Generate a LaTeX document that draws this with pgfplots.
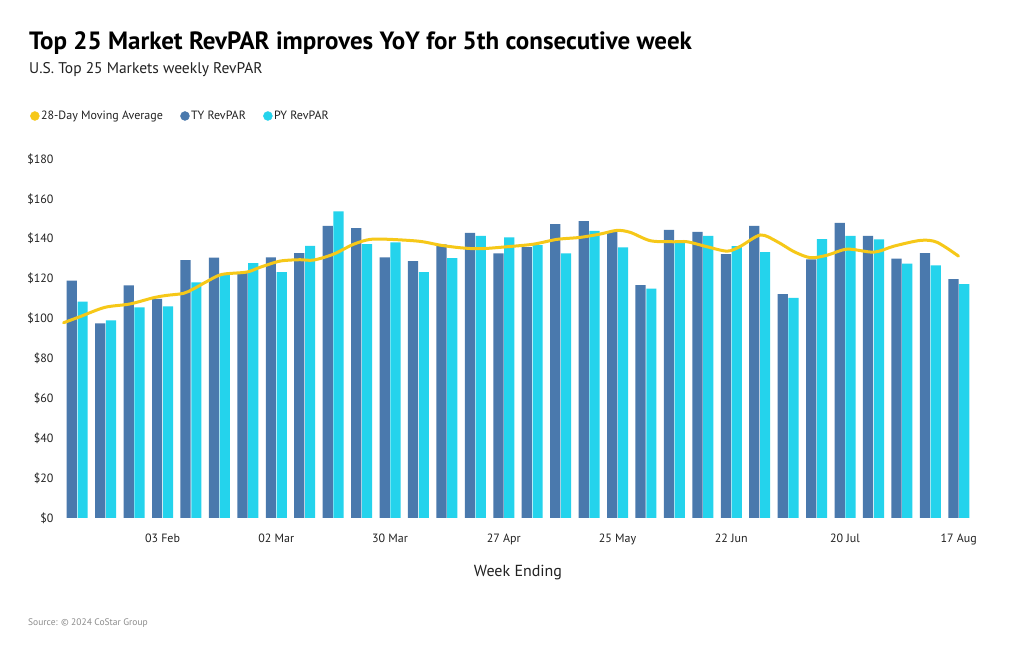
\documentclass[border=0pt]{standalone}
\usepackage{pgfplots}
\pgfplotsset{compat=1.18}
\usepackage{pgfplotstable}
\usepackage{fontspec}
\setmainfont{PT Sans}
\definecolor{tycol}{HTML}{4A79AD}
\definecolor{pycol}{HTML}{24D3EC}
\definecolor{macol}{HTML}{F6C818}
\definecolor{txt}{HTML}{222222}

\pgfplotstableread{
idx ty py
0 119.0 108.5
1 97.6 99.1
2 116.6 105.6
3 109.9 106.1
4 129.3 118.1
5 130.5 122.0
6 122.8 127.8
7 130.7 123.3
8 132.8 136.5
9 146.5 153.7
10 145.4 137.3
11 130.7 138.2
12 128.8 123.3
13 137.2 130.3
14 143.0 141.4
15 132.7 140.7
16 135.8 136.8
17 147.4 132.7
18 148.9 144.0
19 143.5 135.7
20 116.8 115.0
21 144.4 138.0
22 143.5 141.4
23 132.3 136.3
24 146.5 133.3
25 112.3 110.4
26 129.7 139.8
27 148.0 141.4
28 141.5 139.7
29 130.0 127.5
30 132.8 126.7
31 119.8 117.3
}\barsdata

\pgfplotstableread{
x y
-0.48 97.9
0.09 100.9
0.97 105.6
1.85 107.3
2.67 110.4
3.14 111.6
3.73 112.6
4.08 114.8
4.55 118.5
5.08 122.1
5.96 123.3
6.43 125.7
7.13 128.8
7.83 129.5
8.30 129.3
9.00 132.2
9.71 137.2
10.30 139.7
11.00 139.7
12.06 138.7
12.76 136.8
13.47 135.5
14.17 135.0
15.11 136.0
16.05 137.3
16.87 139.7
17.69 140.7
18.40 142.4
18.98 144.2
19.45 143.2
20.16 139.0
20.98 138.5
21.45 138.5
22.15 136.0
22.86 133.8
23.33 136.3
24.03 141.9
24.62 138.5
25.21 133.5
25.79 130.5
26.38 131.8
27.08 134.8
28.02 133.3
28.72 136.3
29.66 139.2
30.24 138.2
30.99 131.3
}\madata

\begin{document}
\begin{tikzpicture}[x=1pt,y=1pt]
\path[use as bounding box, fill=white] (0,0) rectangle (1020,650);
\begin{axis}[
  at={(63pt,132pt)}, anchor=south west,
  scale only axis, width=910pt, height=359pt,
  xmin=-0.5, xmax=31.5, ymin=0, ymax=180,
  axis line style={draw=none},
  major tick length=0pt,
  xtick={3,7,11,15,19,23,27,31},
  xticklabels={03 Feb,02 Mar,30 Mar,27 Apr,25 May,22 Jun,20 Jul,17 Aug},
  ytick={0,20,...,180},
  yticklabels={\$0,\$20,\$40,\$60,\$80,\$100,\$120,\$140,\$160,\$180},
  /pgf/number format/assume math mode=true,
  ticklabel style={font=\fontsize{12}{14}\selectfont, text=txt},
  yticklabel style={anchor=east, xshift=-6pt},
  xticklabel style={anchor=base, yshift=-25pt},
  xlabel={Week Ending},
  xlabel style={at={(axis description cs:0.5,0)}, anchor=base, yshift=-59pt, font=\fontsize{16}{18}\selectfont, text=txt},
  legend columns=-1,
  legend style={at={(axis description cs:-0.0396,1.1198)}, anchor=west, draw=none, fill=none,
    font=\fontsize{12}{14}\selectfont, text=txt,
    nodes={inner sep=1.5pt}},
  clip=false,
]
\addlegendimage{legend image code/.code={\fill[macol] (4.5pt,0pt) circle (4.5pt);}}
\addlegendentry{28-Day Moving Average}
\addlegendimage{legend image code/.code={\path[draw=none,fill=none] (-16pt,-1pt) rectangle (0pt,1pt); \fill[tycol] (4.5pt,0pt) circle (4.5pt);}}
\addlegendentry{TY RevPAR}
\addlegendimage{legend image code/.code={\path[draw=none,fill=none] (-16pt,-1pt) rectangle (0pt,1pt); \fill[pycol] (4.5pt,0pt) circle (4.5pt);}}
\addlegendentry{PY RevPAR}
\addplot[forget plot, ybar, bar width=0.36, bar shift=-0.19, fill=tycol, draw=none] table[x=idx,y=ty] {\barsdata};
\addplot[forget plot, ybar, bar width=0.36, bar shift=0.19, fill=pycol, draw=none] table[x=idx,y=py] {\barsdata};
\addplot[forget plot, macol, line width=3pt, smooth, tension=0.5, line cap=round] table[x=x,y=y] {\madata};
\end{axis}
\node[anchor=base west, inner sep=0, text=black] at (29,600) {\fontsize{25}{29}\selectfont\bfseries Top 25 Market RevPAR improves YoY for 5th consecutive week};
\node[anchor=base west, inner sep=0, text=txt] at (29,576) {\fontsize{15.5}{18}\selectfont U.S. Top 25 Markets weekly RevPAR};
\node[anchor=base west, inner sep=0, text=black!45] at (28,24) {\fontsize{9.5}{12}\selectfont Source: \textcopyright{} 2024 CoStar Group};
\end{tikzpicture}
\end{document}
